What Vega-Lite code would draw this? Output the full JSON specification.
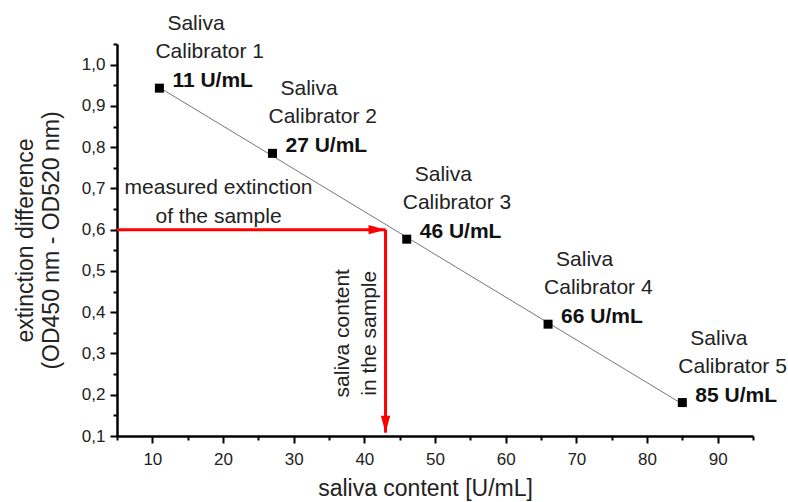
{
  "$schema": "https://vega.github.io/schema/vega-lite/v6.json",
  "width": 636,
  "height": 392,
  "autosize": {"type": "none"},
  "padding": {"left": 117, "top": 44, "right": 35, "bottom": 66},
  "background": "white",
  "config": {
    "view": {"stroke": null},
    "font": "Liberation Sans",
    "axis": {
      "grid": false,
      "domainColor": "#000",
      "domainWidth": 2.5,
      "tickColor": "#000",
      "tickWidth": 2,
      "labelFont": "Liberation Sans",
      "labelFontSize": 17,
      "labelColor": "#222",
      "labelFlush": false,
      "labelOverlap": false,
      "titleFont": "Liberation Sans",
      "titleFontSize": 23,
      "titleFontWeight": "normal",
      "titleColor": "#222",
      "titleLineHeight": 26
    }
  },
  "datasets": {
    "calibrators": [
      {"conc": 11, "ext": 0.943, "line1": "Saliva", "line2": "Calibrator 1", "label": "11 U/mL"},
      {"conc": 27, "ext": 0.785, "line1": "Saliva", "line2": "Calibrator 2", "label": "27 U/mL"},
      {"conc": 46, "ext": 0.577, "line1": "Saliva", "line2": "Calibrator 3", "label": "46 U/mL"},
      {"conc": 66, "ext": 0.371, "line1": "Saliva", "line2": "Calibrator 4", "label": "66 U/mL"},
      {"conc": 85, "ext": 0.181, "line1": "Saliva", "line2": "Calibrator 5", "label": "85 U/mL"}
    ],
    "sample": [
      {"conc": 43, "ext": 0.6, "hlabel": "measured extinction\nof the sample", "vlabel": "saliva content\nin the sample"}
    ]
  },
  "encoding": {
    "x": {
      "field": "conc",
      "type": "quantitative",
      "scale": {"domain": [5, 95], "nice": false, "zero": false},
      "axis": {
        "title": "saliva content [U/mL]",
        "values": [5, 10, 15, 20, 25, 30, 35, 40, 45, 50, 55, 60, 65, 70, 75, 80, 85, 90, 95],
        "labelExpr": "datum.value % 10 == 0 ? format(datum.value, 'd') : ''",
        "tickSize": {"condition": {"test": "datum.value % 10 == 0", "value": 7}, "value": 4},
        "labelPadding": 8,
        "titlePadding": 10,
        "titleX": 308
      }
    },
    "y": {
      "field": "ext",
      "type": "quantitative",
      "scale": {"domain": [0.1, 1.05], "nice": false, "zero": false},
      "axis": {
        "title": ["extinction difference", "(OD450 nm - OD520 nm)"],
        "values": [0.1, 0.15, 0.2, 0.25, 0.3, 0.35, 0.4, 0.45, 0.5, 0.55, 0.6, 0.65, 0.7, 0.75, 0.8, 0.85, 0.9, 0.95, 1.0, 1.05],
        "labelExpr": "round(datum.value*100) % 10 == 0 ? replace(format(datum.value, '.1f'), '.', ',') : ''",
        "tickSize": {"condition": {"test": "round(datum.value*100) % 10 == 0", "value": 7}, "value": 4},
        "labelPadding": 5,
        "titlePadding": 18
      }
    }
  },
  "layer": [
    {
      "data": {"name": "calibrators"},
      "transform": [{"regression": "ext", "on": "conc"}],
      "mark": {"type": "line", "color": "#777", "strokeWidth": 1}
    },
    {
      "data": {"name": "sample"},
      "mark": {"type": "rule", "color": "#ff0000", "strokeWidth": 3},
      "encoding": {
        "x": {"datum": 5, "type": "quantitative"},
        "x2": {"field": "conc"},
        "y": {"field": "ext", "type": "quantitative"}
      }
    },
    {
      "data": {"name": "sample"},
      "mark": {"type": "rule", "color": "#ff0000", "strokeWidth": 3},
      "encoding": {
        "x": {"field": "conc", "type": "quantitative"},
        "y": {"field": "ext", "type": "quantitative"},
        "y2": {"datum": 0.108}
      }
    },
    {
      "data": {"name": "sample"},
      "mark": {"type": "point", "shape": "M0,0 L-2,-0.55 L-2,0.55 Z", "size": 289, "filled": true, "color": "#ff0000", "opacity": 1}
    },
    {
      "data": {"name": "sample"},
      "mark": {"type": "point", "shape": "M0,0 L-0.55,-2 L0.55,-2 Z", "size": 289, "filled": true, "color": "#ff0000", "opacity": 1},
      "encoding": {
        "x": {"field": "conc", "type": "quantitative"},
        "y": {"datum": 0.108, "type": "quantitative"}
      }
    },
    {
      "data": {"name": "calibrators"},
      "mark": {"type": "square", "size": 81, "color": "#000", "opacity": 1}
    },
    {
      "data": {"name": "calibrators"},
      "mark": {"type": "text", "align": "left", "baseline": "alphabetic", "dx": 8, "dy": -58, "fontSize": 21, "color": "#222"},
      "encoding": {"text": {"field": "line1"}}
    },
    {
      "data": {"name": "calibrators"},
      "mark": {"type": "text", "align": "left", "baseline": "alphabetic", "dx": -4, "dy": -30, "fontSize": 21, "color": "#222"},
      "encoding": {"text": {"field": "line2"}}
    },
    {
      "data": {"name": "calibrators"},
      "mark": {"type": "text", "align": "left", "baseline": "alphabetic", "dx": 13, "dy": -1, "fontSize": 21, "fontWeight": "bold", "color": "#111"},
      "encoding": {"text": {"field": "label"}}
    },
    {
      "data": {"name": "sample"},
      "mark": {"type": "text", "align": "center", "baseline": "alphabetic", "dx": -167, "dy": -36, "fontSize": 21, "color": "#222", "lineBreak": "\n", "lineHeight": 29},
      "encoding": {"text": {"field": "hlabel"}}
    },
    {
      "data": {"name": "sample"},
      "mark": {"type": "text", "align": "center", "baseline": "alphabetic", "angle": 270, "dy": -37, "fontSize": 21, "color": "#222", "lineBreak": "\n", "lineHeight": 27},
      "encoding": {
        "text": {"field": "vlabel"},
        "x": {"field": "conc", "type": "quantitative"},
        "y": {"datum": 0.349, "type": "quantitative"}
      }
    }
  ]
}
